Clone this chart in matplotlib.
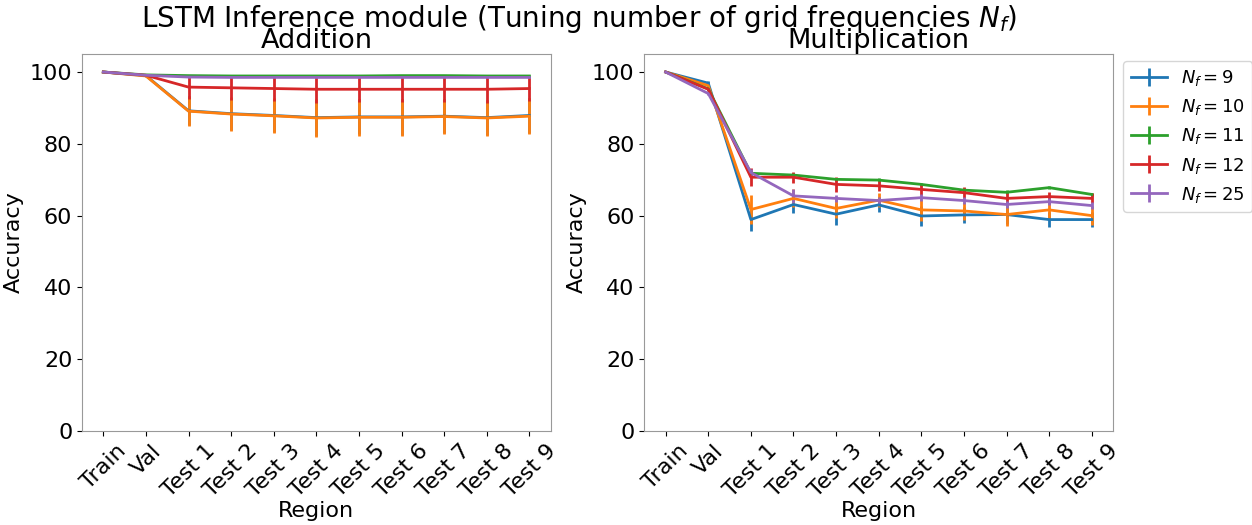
import matplotlib
matplotlib.use('Agg')
import matplotlib.pyplot as plt

regions = ['Train', 'Val', 'Test 1', 'Test 2', 'Test 3', 'Test 4', 'Test 5',
           'Test 6', 'Test 7', 'Test 8', 'Test 9']
labels = [r'$N_f = 9$', r'$N_f = 10$', r'$N_f = 11$', r'$N_f = 12$', r'$N_f = 25$']

# Addition
add_nf9 = [100, 99.0, 89.2, 88.4, 87.9, 87.3, 87.5, 87.5, 87.7, 87.3, 87.9]
add_nf10 = [100, 98.9, 89.1, 88.3, 87.8, 87.2, 87.4, 87.4, 87.6, 87.2, 87.7]
add_nf11 = [100, 99.2, 99.0, 98.9, 98.9, 98.9, 98.9, 99.0, 99.0, 98.9, 98.9]
add_nf12 = [100, 99.1, 95.8, 95.6, 95.4, 95.2, 95.2, 95.2, 95.2, 95.2, 95.4]
add_nf25 = [100, 99.1, 98.6, 98.5, 98.5, 98.5, 98.5, 98.5, 98.5, 98.5, 98.5]
add_err9 = [0, 0.2, 4.0, 4.5, 4.7, 5.0, 4.9, 5.0, 4.8, 4.9, 4.8]
add_err10 = [0, 0.2, 4.2, 4.7, 4.9, 5.2, 5.1, 5.2, 5.0, 5.1, 5.0]
add_err11 = [0, 0.1, 0.2, 0.2, 0.2, 0.2, 0.2, 0.2, 0.2, 0.2, 0.2]
add_err12 = [0, 0.2, 3.2, 3.3, 3.5, 3.7, 3.6, 3.6, 3.6, 3.7, 3.6]
add_err25 = [0, 0.1, 0.3, 0.3, 0.3, 0.3, 0.3, 0.3, 0.3, 0.3, 0.3]

# Multiplication
mul_nf9 = [100, 96.9, 58.9, 63.1, 60.4, 63.0, 59.9, 60.2, 60.3, 58.9, 58.9]
mul_nf10 = [100, 96.2, 61.7, 64.8, 62.0, 64.3, 61.6, 61.3, 60.3, 61.6, 60.0]
mul_nf11 = [100, 95.3, 71.8, 71.3, 70.1, 69.9, 68.7, 67.1, 66.5, 67.8, 65.9]
mul_nf12 = [100, 95.2, 70.7, 70.7, 68.7, 68.3, 67.3, 66.4, 64.8, 65.3, 64.8]
mul_nf25 = [100, 94.0, 72.0, 65.5, 64.8, 64.2, 65.0, 64.2, 63.1, 63.9, 62.8]
mul_err9 = [0, 0.5, 3.2, 2.3, 3.1, 2.1, 2.8, 2.3, 2.5, 2.0, 2.0]
mul_err10 = [0, 0.6, 4.0, 2.5, 2.8, 2.0, 3.0, 2.5, 3.2, 2.6, 2.6]
mul_err11 = [0, 0.4, 0.6, 0.6, 0.5, 0.5, 0.5, 0.5, 0.5, 0.5, 0.5]
mul_err12 = [0, 0.5, 2.5, 1.5, 2.1, 1.4, 1.6, 1.6, 1.5, 1.4, 1.4]
mul_err25 = [0, 0.5, 1.0, 2.0, 1.0, 1.0, 1.0, 1.0, 1.0, 1.0, 1.0]

plt.rcParams['font.size'] = 16

fig, (ax1, ax2) = plt.subplots(1, 2, figsize=(12.52, 5.25), dpi=100)
fig.subplots_adjust(left=0.0655, right=0.889, bottom=0.179, top=0.897, wspace=0.2)

x = list(range(len(regions)))
add = [(add_nf9, add_err9), (add_nf10, add_err10), (add_nf11, add_err11),
       (add_nf12, add_err12), (add_nf25, add_err25)]
mul = [(mul_nf9, mul_err9), (mul_nf10, mul_err10), (mul_nf11, mul_err11),
       (mul_nf12, mul_err12), (mul_nf25, mul_err25)]

for ax, data, title in [(ax1, add, 'Addition'), (ax2, mul, 'Multiplication')]:
    for (y, e), lab in zip(data, labels):
        ax.errorbar(x, y, yerr=e, label=lab, lw=2, elinewidth=2)
    ax.set_title(title, pad=2, fontsize=19.5)
    ax.set_xticks(x)
    ax.set_xticklabels(regions, rotation=45)
    ax.set_xlabel('Region', labelpad=0)
    ax.set_ylabel('Accuracy')
    ax.set_ylim(0, 105)
    for s in ax.spines.values():
        s.set_color('#999999')

ax2.legend(loc='upper left', bbox_to_anchor=(1.003, 1.005), fontsize=13)
fig.suptitle(r'LSTM Inference module (Tuning number of grid frequencies $N_f$)',
             x=0.4625, y=0.995, fontsize=20)

plt.savefig('out.png')
